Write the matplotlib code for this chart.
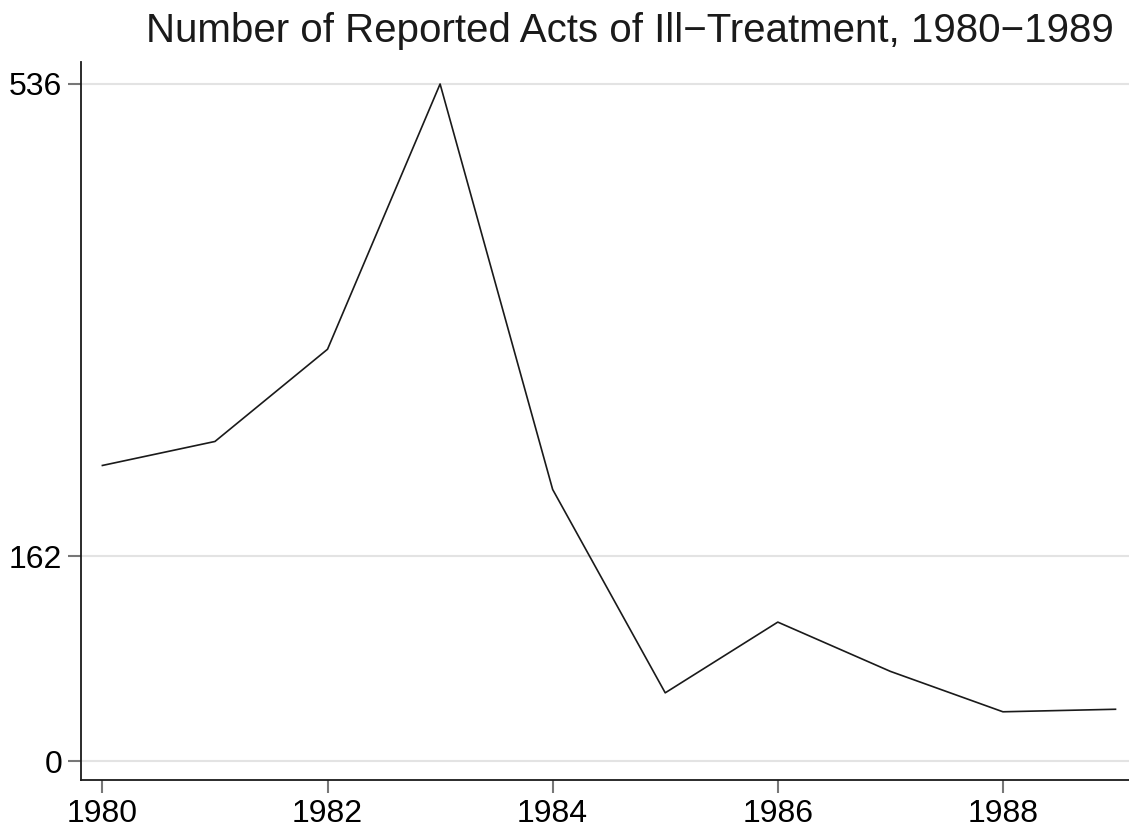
import matplotlib.pyplot as plt

years = [1980, 1981, 1982, 1983, 1984, 1985, 1986, 1987, 1988, 1989]
acts = [234, 253, 326, 536, 215, 54, 110, 71, 39, 41]
y_ticks = [0, 162, 536]
x_ticks = [1980, 1982, 1984, 1986, 1988]

plt.rcParams['font.family'] = ['Liberation Sans', 'DejaVu Sans']

fig = plt.figure(figsize=(11.29, 8.27), dpi=100)
ax = fig.add_axes([81 / 1129, 47 / 827, 1 - 81 / 1129, (780 - 62) / 827])

ax.plot(years, acts, color='#1a1a1a', linewidth=1.2)

ax.set_xlim(1979.81, 1989.12)
ax.set_ylim(-15, 553.4)
ax.set_xticks(x_ticks)
ax.set_yticks(y_ticks)
ax.tick_params(axis='both', labelsize=23, color='#777777', length=9.5, width=1.5, pad=4)
ax.grid(axis='y', color='#e3e3e3', linewidth=1.5)
ax.set_axisbelow(True)

for side in ['top', 'right']:
    ax.spines[side].set_visible(False)
for side in ['left', 'bottom']:
    ax.spines[side].set_color('#1a1a1a')
    ax.spines[side].set_linewidth(1.3)

fig.text(0.558, 0.985, 'Number of Reported Acts of Ill\u2212Treatment, 1980\u22121989',
         ha='center', va='top', fontsize=29, color='#1a1a1a')

fig.savefig('out.png', dpi=100)
